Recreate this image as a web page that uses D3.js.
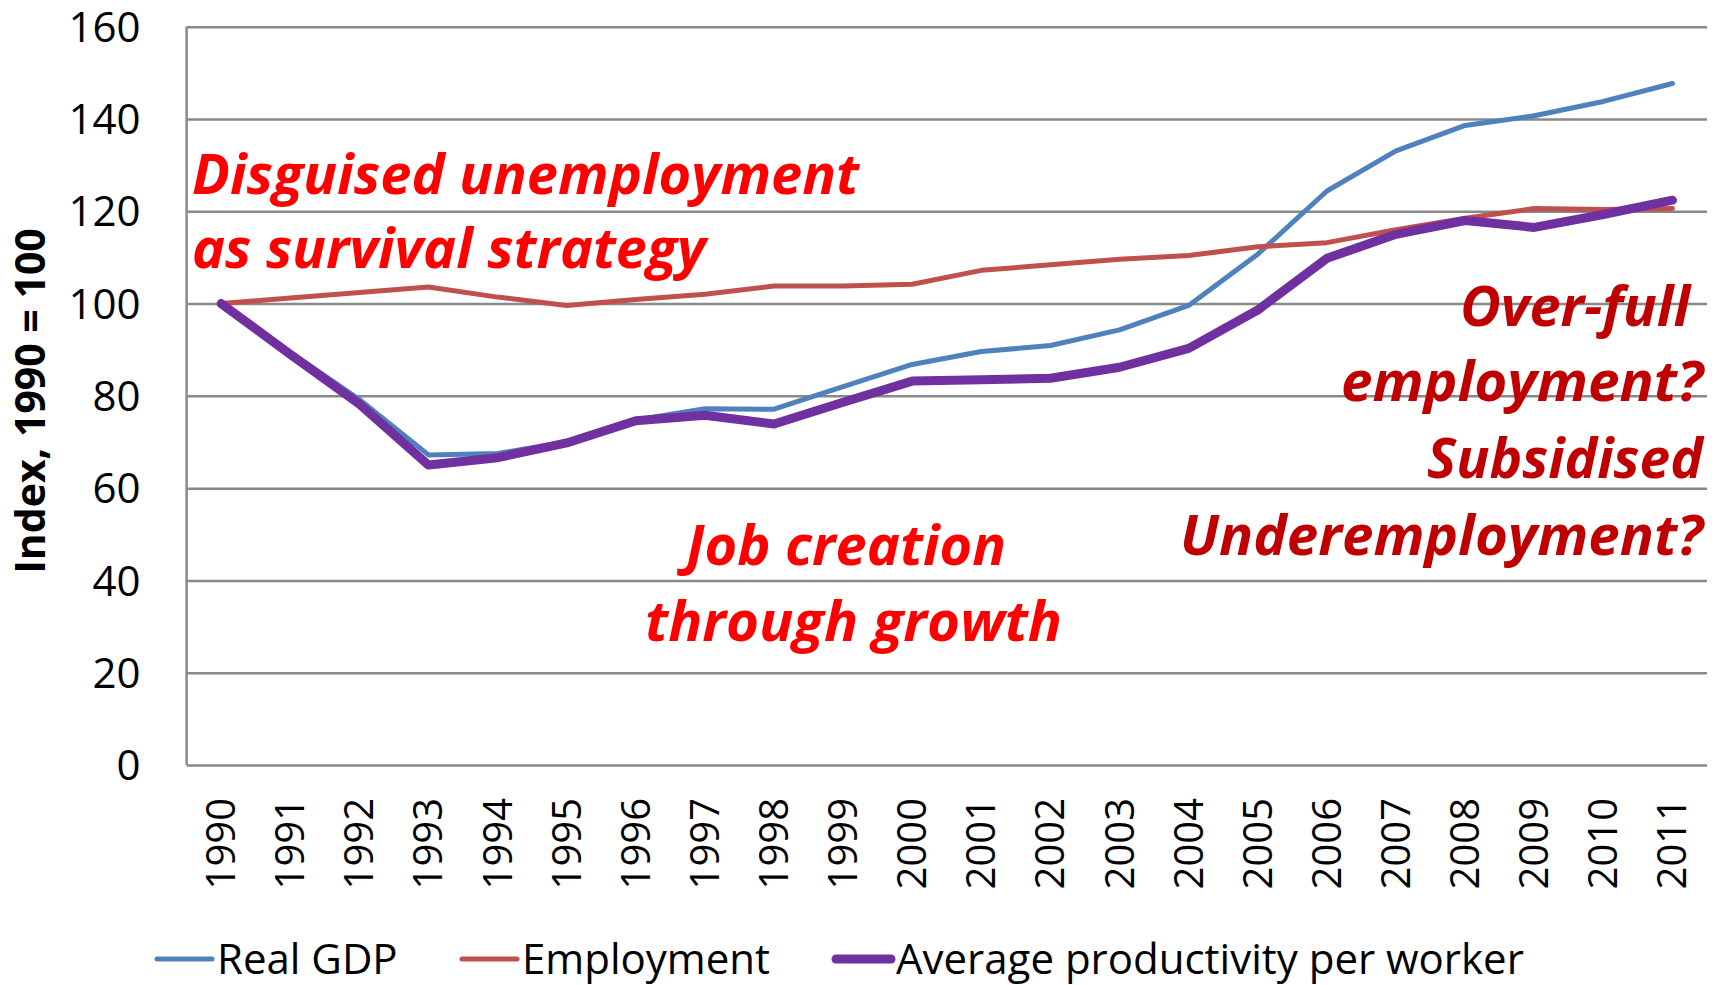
<!DOCTYPE html>
<html>
<head>
<meta charset="utf-8">
<script src="https://cdn.jsdelivr.net/npm/d3@7"></script>
<style>
  body { margin: 0; background: #fff; }
  text { font-family: "Open Sans", sans-serif; }
</style>
</head>
<body>
<script>
// chart data
var years = ["1990", "1991", "1992", "1993", "1994", "1995", "1996", "1997", "1998", "1999", "2000",
  "2001", "2002", "2003", "2004", "2005", "2006", "2007", "2008", "2009", "2010", "2011"];
var realGDP = [100, 89.5, 79.2, 67.2, 67.5, 70.0, 74.8, 77.2, 77.1, 82.0, 86.8,
  89.6, 90.9, 94.3, 99.6, 110.7, 124.4, 133.1, 138.6, 140.7, 143.8, 147.7];
var employment = [100, 101.2, 102.4, 103.6, 101.4, 99.6, 100.9, 102.0, 103.8, 103.8, 104.2,
  107.2, 108.4, 109.6, 110.4, 112.3, 113.2, 116.0, 118.5, 120.6, 120.4, 120.6];
var productivity = [100, 89.0, 78.2, 65.0, 66.6, 69.8, 74.6, 75.8, 73.9, 78.6, 83.2,
  83.5, 83.8, 86.2, 90.3, 98.6, 109.8, 115.0, 118.0, 116.5, 119.3, 122.4];
var seriesNames = ["Real GDP", "Employment", "Average productivity per worker"];
var yTicks = [0, 20, 40, 60, 80, 100, 120, 140, 160];
var yTitle = "Index, 1990 = 100";

// Set up size (note: "top" is taken by window.top, so prefix these)
var width = 1721;
var height = 985;
var plotLeft = 186.6, plotRight = 1707, plotTop = 26.7, plotBottom = 765;

var svg = d3.select('body').append('svg')
  .attr('width', width)
  .attr('height', height);

var x = d3.scaleBand().domain(years).range([plotLeft, plotRight]);
var y = d3.scaleLinear().domain([0, 160]).range([plotBottom, plotTop]);

// y axis with gridlines
var yAxis = svg.append('g')
  .attr('transform', 'translate(' + plotLeft + ',0)')
  .call(d3.axisLeft(y).tickValues(yTicks).tickSize(-(plotRight - plotLeft)).tickPadding(46));
yAxis.select('.domain').remove();
yAxis.selectAll('line').attr('stroke', '#898989').attr('stroke-width', 2.5);
yAxis.selectAll('text')
  .attr('font-size', 42)
  .attr('fill', '#000')
  .attr('dy', '0.35em')
  .style('font-family', '"Open Sans", sans-serif');

// left axis line
svg.append('line')
  .attr('x1', plotLeft).attr('x2', plotLeft)
  .attr('y1', plotTop).attr('y2', plotBottom)
  .attr('stroke', '#898989').attr('stroke-width', 2.5);

// x axis, labels turned upright
var xAxis = svg.append('g')
  .attr('transform', 'translate(0,' + plotBottom + ')')
  .call(d3.axisBottom(x).tickSize(0).tickPadding(0));
xAxis.select('.domain').remove();
xAxis.selectAll('text')
  .attr('transform', 'rotate(-90)')
  .attr('text-anchor', 'end')
  .attr('x', -33)
  .attr('y', 0)
  .attr('dy', '0.35em')
  .attr('font-size', 40)
  .attr('fill', '#000')
  .style('font-family', '"Open Sans", sans-serif');

// y axis title
svg.append('text')
  .attr('transform', 'translate(45,401) rotate(-90)')
  .attr('text-anchor', 'middle')
  .attr('font-size', 41)
  .attr('font-weight', 'bold')
  .text(yTitle);

// lines
var series = [
  { name: seriesNames[0], values: realGDP, color: '#4F81BD', w: 5 },
  { name: seriesNames[1], values: employment, color: '#C0504D', w: 5 },
  { name: seriesNames[2], values: productivity, color: '#7030A0', w: 9 }
];
var line = d3.line()
  .x(function (d, i) { return x(years[i]) + x.bandwidth() / 2; })
  .y(function (d) { return y(d); });

svg.selectAll('path.series')
  .data(series)
  .enter()
  .append('path')
  .attr('class', 'series')
  .attr('d', function (d) { return line(d.values); })
  .attr('fill', 'none')
  .attr('stroke', function (d) { return d.color; })
  .attr('stroke-width', function (d) { return d.w; })
  .attr('stroke-linejoin', 'round')
  .attr('stroke-linecap', 'round');

// annotations
var notes = [
  { t: 'Disguised unemployment', x: 192, y: 194, fill: '#FF0000', len: 667 },
  { t: 'as survival strategy', x: 192, y: 268, fill: '#FF0000', len: 514 },
  { t: 'Job creation', x: 686, y: 565, fill: '#FF0000', len: 320 },
  { t: 'through growth', x: 645, y: 641, fill: '#FF0000', len: 417 },
  { t: 'Over-full', x: 1460, y: 326, fill: '#C00000', len: 230 },
  { t: 'employment?', x: 1341, y: 401, fill: '#C00000', len: 362 },
  { t: 'Subsidised', x: 1427, y: 478, fill: '#C00000', len: 276 },
  { t: 'Underemployment?', x: 1180, y: 555, fill: '#C00000', len: 523 }
];
svg.selectAll('text.note')
  .data(notes)
  .enter()
  .append('text')
  .attr('class', 'note')
  .attr('x', function (d) { return d.x; })
  .attr('y', function (d) { return d.y; })
  .attr('fill', function (d) { return d.fill; })
  .attr('font-size', 56)
  .attr('font-weight', 'bold')
  .attr('font-style', 'italic')
  .attr('textLength', function (d) { return d.len; })
  .attr('lengthAdjust', 'spacingAndGlyphs')
  .text(function (d) { return d.t; });

// legend
var legendX = [157, 462, 836];
var legend = svg.selectAll('g.legend')
  .data(series)
  .enter()
  .append('g')
  .attr('class', 'legend')
  .attr('transform', function (d, i) { return 'translate(' + legendX[i] + ',959)'; });
legend.append('line')
  .attr('x1', 0).attr('x2', 55)
  .attr('stroke', function (d) { return d.color; })
  .attr('stroke-width', function (d) { return d.w; })
  .attr('stroke-linecap', 'round');
legend.append('text')
  .attr('x', 60)
  .attr('dy', '0.35em')
  .attr('font-size', 42)
  .attr('fill', '#000')
  .text(function (d) { return d.name; });
</script>
</body>
</html>
